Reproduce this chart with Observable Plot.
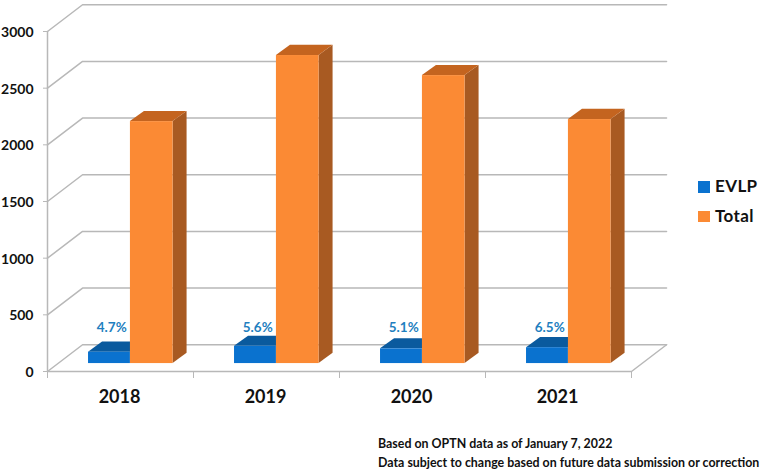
<!DOCTYPE html>
<html>
<head>
<meta charset="utf-8">
<script src="https://cdn.jsdelivr.net/npm/d3@7"></script>
<script src="https://cdn.jsdelivr.net/npm/@observablehq/plot@0.6"></script>
<style>
html,body{margin:0;padding:0;background:#fff}
#wrap{position:relative;width:767px;height:473px;overflow:hidden;font-family:Lato,sans-serif;color:#111}
.sw{position:absolute;width:12px}
.lg{position:absolute;left:715px;font-weight:700;font-size:17px;line-height:20px;letter-spacing:.4px}
.cap{position:absolute;left:378px;font-weight:700;font-size:12.4px;line-height:16px;white-space:nowrap}
</style>
</head>
<body>
<div id="wrap">
  <div id="chart"></div>
  <div class="sw" style="left:698px;top:181px;height:12px;background:#0a72cf"></div>
  <div class="lg" style="top:176px">EVLP</div>
  <div class="sw" style="left:698px;top:211px;height:11px;background:#fb8a34"></div>
  <div class="lg" style="top:206px">Total</div>
  <div class="cap" style="top:436px">Based on OPTN data as of January 7, 2022</div>
  <div class="cap" style="top:455px">Data subject to change based on future data submission or correction</div>
</div>
<script>
const years = ["2018", "2019", "2020", "2021"];
const evlp = [100, 152, 130, 140];
const total = [2135, 2718, 2541, 2153];
const pctLabels = ["4.7%", "5.6%", "5.1%", "6.5%"];
const yTicks = [0, 500, 1000, 1500, 2000, 2500, 3000];
const slots = [0, 1, 2, 3, 4];

// depth of the chart box and of the bars, in axis units
const boxDepthX = 0.24, boxDepthY = 236;
const barDepthX = 0.096, barDepthY = 90;
const barBase = 70;
const evlpLeft = 0.281, barMid = 0.568, totalRight = 0.86;
const labelY = 388, labelX = 0.44;

const C = {
  grid: "#b8b8b8",
  evlp: "#0a72cf", evlpTop: "#0a5a9e", evlpSide: "#0a4f8c",
  total: "#fb8a34", totalTop: "#c4641f", totalSide: "#a85a22",
  label: "#1f7fc0"
};

const bars = years.flatMap((year, i) => [
  {year, key: "EVLP", value: evlp[i], x1: i + evlpLeft, x2: i + barMid, front: C.evlp, top: C.evlpTop, side: C.evlpSide},
  {year, key: "Total", value: total[i], x1: i + barMid, x2: i + totalRight, front: C.total, top: C.totalTop, side: C.totalSide}
]);

const gridLines = yTicks.flatMap(v => [
  {v, x: 0, y: v},
  {v, x: boxDepthX, y: v + boxDepthY},
  {v, x: 4 + boxDepthX, y: v + boxDepthY}
]);

const floorEdge = [
  {x: 0, y: 0}, {x: 4, y: 0}, {x: 4 + boxDepthX, y: boxDepthY}
];
const wallEdge = [{x: 0, y: 0}, {x: 0, y: 3000}];

// a parallelogram face for each bar: side (areaY) and top (areaX)
const sideFaces = bars.flatMap(b => [
  {id: b.year + b.key, fill: b.side, x: b.x2, y1: barBase, y2: barBase + b.value},
  {id: b.year + b.key, fill: b.side, x: b.x2 + barDepthX, y1: barBase + barDepthY, y2: barBase + barDepthY + b.value}
]);
const topFaces = bars.flatMap(b => [
  {id: b.year + b.key, fill: b.top, y: barBase + b.value, x1: b.x1, x2: b.x2},
  {id: b.year + b.key, fill: b.top, y: barBase + b.value + barDepthY, x1: b.x1 + barDepthX, x2: b.x2 + barDepthX}
]);

const plot = Plot.plot({
  width: 767,
  height: 473,
  marginLeft: 47,
  marginRight: 136,
  marginTop: 31,
  marginBottom: 102,
  style: {background: "#fff", fontFamily: "Lato, sans-serif", overflow: "visible"},
  x: {type: "linear", domain: [0, 4], axis: null},
  y: {domain: [0, 3000], axis: null},
  marks: [
    Plot.line(gridLines, {x: "x", y: "y", z: "v", stroke: C.grid, strokeWidth: 1.5}),
    Plot.line(floorEdge, {x: "x", y: "y", stroke: C.grid, strokeWidth: 1.5}),
    Plot.line(wallEdge, {x: "x", y: "y", stroke: C.grid, strokeWidth: 1.5}),
    Plot.axisY(yTicks, {
      anchor: "left", tickSize: 4, stroke: C.grid, tickFormat: () => "", label: null
    }),
    Plot.axisY(yTicks, {
      anchor: "left", tickSize: 0, tickPadding: 14, stroke: "none", fill: "#111", dy: 1,
      fontSize: 14, fontWeight: 700, tickFormat: "d", label: null
    }),
    Plot.axisX(slots, {
      anchor: "bottom", tickSize: 7, stroke: C.grid, tickFormat: () => "", label: null
    }),
    Plot.axisX(years.map((d, i) => i + 0.5), {
      anchor: "bottom", tickSize: 0, tickPadding: 19, stroke: "none", fill: "#111", dx: -1,
      fontSize: 18, fontWeight: 700, tickFormat: d => years[Math.floor(d)], label: null
    }),
    Plot.areaY(sideFaces, {x: "x", y1: "y1", y2: "y2", z: "id", fill: "fill"}),
    Plot.areaX(topFaces, {y: "y", x1: "x1", x2: "x2", z: "id", fill: "fill"}),
    Plot.rect(bars, {x1: "x1", x2: "x2", y1: barBase, y2: d => barBase + d.value, fill: "front", inset: 0}),
    Plot.text(pctLabels, {
      x: (d, i) => i + labelX, y: () => labelY, text: d => d,
      fill: C.label, fontSize: 13.5, fontWeight: 700
    })
  ]
});
document.getElementById("chart").appendChild(plot);
</script>
</body>
</html>
